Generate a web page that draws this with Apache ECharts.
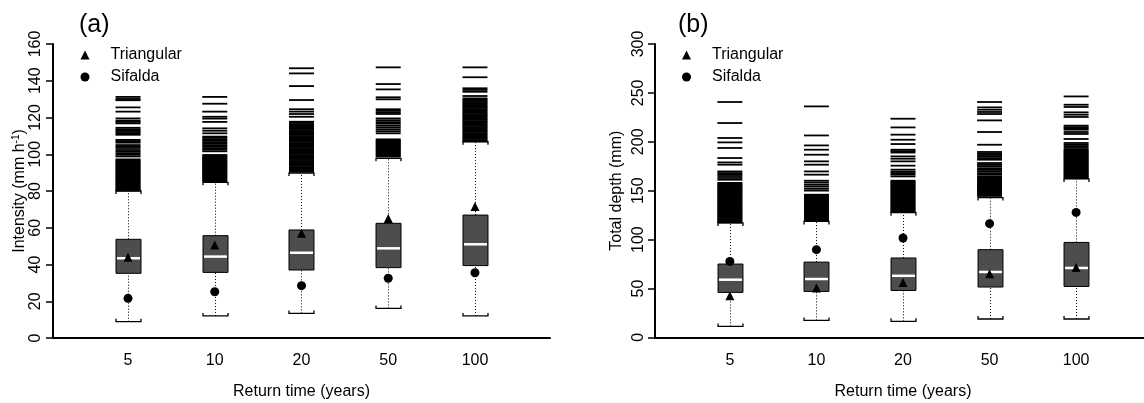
<!DOCTYPE html>
<html><head><meta charset="utf-8">
<script src="https://cdn.jsdelivr.net/npm/echarts@6/dist/echarts.min.js"></script>
<style>html,body{margin:0;padding:0;background:#fff}#c{width:1144px;height:403px}</style>
</head><body><div id="c"></div>
<script>
const categories = ['5', '10', '20', '50', '100'];

// Panel (a): Intensity (mm h-1)
const aLow = [8.9, 12.0, 13.4, 16.1, 12.0];
const aQ1 = [35.2, 35.7, 37.0, 38.3, 39.4];
const aMed = [43.4, 44.3, 46.4, 48.8, 51.0];
const aQ3 = [53.7, 55.7, 58.8, 62.4, 66.9];
const aHigh = [80.0, 84.7, 89.8, 97.8, 106.8];
const aTri = [43.9, 50.6, 57.0, 65.1, 71.5];
const aSif = [21.6, 25.2, 28.5, 32.5, 35.5];
const aOut5 = [131.2,130.1,129.4,125.5,123.2,119.5,118.3,117.6,116.8,114.4,113.6,112.9,112.1,111.3,110.6,107.8,107.1,106.3,105.0,104.2,103.4,102.3,101.5,100.6,99.7,98.8,97.2,96.6,96.1,95.5,95.0,94.4,93.9,93.3,92.8,92.2,91.7,91.1,90.6,90.0,89.5,88.9,88.4,87.8,87.3,86.7,86.2,85.6,85.1,84.5,84.0,83.4,82.9,82.3,81.8,81.2,80.7,80.3];
const aOut10 = [131.2,127.5,123.2,120.4,119.4,117.6,114.1,112.8,111.4,109.6,108.9,108.1,107.3,106.5,105.7,104.9,104.1,103.3,102.5,101.6,99.6,99.0,98.5,97.9,97.4,96.8,96.3,95.7,95.2,94.6,94.1,93.5,93.0,92.4,91.9,91.3,90.8,90.2,89.7,89.1,88.6,88.0,87.5,86.9,86.4,85.8,85.3];
const aOut20 = [146.8,144.0,137.1,129.5,124.5,123.2,121.9,120.4,117.7,117.1,116.4,115.8,115.1,114.5,113.8,113.2,112.5,111.9,111.2,110.6,109.9,109.3,108.6,108.0,107.3,106.7,106.0,105.4,104.7,104.1,103.4,102.8,102.1,101.5,100.8,100.2,99.5,98.9,98.2,97.6,96.9,96.3,95.6,95.0,94.3,93.7,93.0,92.4,91.7,91.1,90.5];
const aOut50 = [147.3,138.2,135.3,131.0,129.9,124.5,123.6,122.7,121.9,119.5,118.5,117.5,116.6,115.5,114.5,113.5,112.5,111.4,108.1,107.5,107.0,106.4,105.9,105.3,104.8,104.2,103.7,103.1,102.6,102.0,101.5,100.9,100.4,99.8,99.3,98.7];
const aOut100 = [147.3,141.9,135.9,135.0,134.0,131.7,130.4,129.7,129.1,128.4,127.8,127.1,126.5,125.8,125.2,124.5,123.9,123.2,122.6,121.9,121.3,120.6,120.0,119.3,118.7,118.0,117.4,116.7,116.1,115.4,114.8,114.1,113.5,112.8,112.2,111.5,110.9,110.2,109.6,108.9,108.3,107.6,107.1];

// Panel (b): Total depth (mm)
const bLow = [11.2, 17.4, 16.4, 18.8, 18.8];
const bQ1 = [46.0, 47.0, 48.0, 51.5, 52.1];
const bMed = [59.0, 59.7, 63.0, 66.9, 71.0];
const bQ3 = [75.0, 77.0, 81.2, 89.7, 97.1];
const bHigh = [117.0, 118.6, 127.5, 143.0, 162.0];
const bTri = [42.6, 50.5, 56.2, 65.0, 71.6];
const bSif = [77.7, 89.7, 101.6, 116.3, 127.8];
const bOut5 = [240.7,219.2,203.9,199.4,193.7,183.4,178.9,176.6,169.7,168.0,166.5,165.0,163.0,161.2,158.0,157.1,156.0,155.1,154.0,153.1,152.0,151.1,150.0,149.1,148.0,147.1,146.0,145.1,144.0,143.1,142.0,141.1,140.0,139.1,138.0,137.1,136.0,135.1,134.0,133.1,132.0,131.1,130.0,129.1,128.0,127.1,126.0,125.1,124.0,123.1,122.0,121.1,120.0,119.1,118.0,117.5];
const bOut10 = [236.2,206.5,196.3,191.9,186.8,180.0,176.6,169.7,166.4,160.2,158.3,156.1,154.2,152.0,150.1,145.9,144.8,143.9,142.8,141.9,140.8,139.9,138.8,137.9,136.8,135.9,134.8,133.9,132.8,131.9,130.8,129.9,128.8,127.9,126.8,125.9,124.8,123.9,122.8,121.9,120.8,119.9,119.1];
const bOut20 = [223.6,214.7,207.3,202.1,197.7,191.9,190.5,189.0,185.1,182.7,180.0,175.6,171.5,169.5,168.0,166.5,164.6,160.2,159.1,158.2,157.1,156.2,155.1,154.2,153.1,152.2,151.1,150.2,149.1,148.2,147.1,146.2,145.1,144.2,143.1,142.2,141.1,140.2,139.1,138.2,137.1,136.2,135.1,134.2,133.1,132.2,131.1,130.2,129.1,128.3];
const bOut50 = [240.7,235.2,232.8,230.5,228.4,221.9,210.0,197.0,189.6,188.0,186.5,185.0,183.3,181.7,178.3,176.5,175.0,173.0,171.5,170.0,168.0,166.4,164.6,163.5,162.6,161.5,160.6,159.5,158.6,157.5,156.6,155.5,154.6,153.5,152.6,151.5,150.6,149.5,148.6,147.5,146.6,145.5,144.6];
const bOut100 = [246.4,237.9,235.6,230.1,227.7,225.4,216.5,215.0,213.5,212.4,210.0,208.0,202.9,198.8,197.0,195.5,193.7,191.9,190.8,189.9,188.8,187.9,186.8,185.9,184.8,183.9,182.8,181.9,180.8,179.9,178.8,177.9,176.8,175.9,174.8,173.9,172.8,171.9,170.8,169.9,168.8,167.9,166.8,165.9,164.8,163.9,162.8];

const FONT = 'Liberation Sans, Arial, Helvetica, sans-serif';
const HALF = 0.144;

function boxItem(params, api) {
  const x = api.value(0);
  const pLo = api.coord([x, api.value(1)]);
  const pQ1 = api.coord([x, api.value(2)]);
  const pMed = api.coord([x, api.value(3)]);
  const pQ3 = api.coord([x, api.value(4)]);
  const pHi = api.coord([x, api.value(5)]);
  const hw = api.size([HALF, 0])[0];
  const cx = Math.round(pQ1[0]) + 0.5;
  const dotted = { stroke: '#000', lineWidth: 1, lineDash: [1, 2] };
  const solid = { stroke: '#000', lineWidth: 1.3, fill: null };
  const t = 3;
  return { type: 'group', children: [
    { type: 'line', shape: { x1: cx, y1: pLo[1], x2: cx, y2: pQ1[1] }, style: dotted },
    { type: 'line', shape: { x1: cx, y1: pQ3[1], x2: cx, y2: pHi[1] }, style: dotted },
    { type: 'polyline', shape: { points: [[cx - hw, pLo[1] - t], [cx - hw, pLo[1]], [cx + hw, pLo[1]], [cx + hw, pLo[1] - t]] }, style: solid },
    { type: 'polyline', shape: { points: [[cx - hw, pHi[1] + t], [cx - hw, pHi[1]], [cx + hw, pHi[1]], [cx + hw, pHi[1] + t]] }, style: solid },
    { type: 'rect', shape: { x: cx - hw, y: pQ3[1], width: 2 * hw, height: pQ1[1] - pQ3[1] }, style: { fill: '#4d4d4d', stroke: '#000', lineWidth: 1 } },
    { type: 'line', shape: { x1: cx - hw + 1, y1: pMed[1], x2: cx + hw - 1, y2: pMed[1] }, style: { stroke: '#fff', lineWidth: 2.5 } }
  ]};
}
function outItem(params, api) {
  const p = api.coord([api.value(0), api.value(1)]);
  const hw = api.size([HALF, 0])[0];
  return { type: 'line', shape: { x1: p[0] - hw, y1: p[1], x2: p[0] + hw, y2: p[1] }, style: { stroke: '#000', lineWidth: 1.8 } };
}
function boxData(lo, q1, med, q3, hi) {
  return lo.map((v, i) => [i + 1, v, q1[i], med[i], q3[i], hi[i]]);
}
function outData(list) {
  const d = [];
  list.forEach((arr, i) => arr.forEach(v => d.push([i + 1, v])));
  return d;
}
function pts(arr) { return arr.map((v, i) => [i + 1, v]); }

function xAxis(gi) {
  return {
    type: 'value', gridIndex: gi, min: 0.135, max: 5.865,
    splitLine: { show: false }, axisTick: { show: false },
    axisLine: { onZero: false, lineStyle: { color: '#000', width: 2 } },
    axisLabel: { customValues: [1, 2, 3, 4, 5], formatter: v => categories[Math.round(v) - 1], fontSize: 16, color: '#000', margin: 15, fontFamily: FONT },
    name: 'Return time (years)', nameLocation: 'middle', nameGap: 46,
    nameTextStyle: { fontSize: 16, color: '#000', fontFamily: FONT }
  };
}
function yAxis(gi, max, interval, name, gap, margin) {
  return {
    type: 'value', gridIndex: gi, min: 0, max: max, interval: interval,
    splitLine: { show: false },
    axisLine: { show: true, onZero: false, lineStyle: { color: '#000', width: 2 } },
    axisTick: { show: true, length: 7, lineStyle: { color: '#000', width: 1.5 } },
    axisLabel: { rotate: 90, fontSize: 16, color: '#000', margin: margin, fontFamily: FONT },
    name: name, nameLocation: 'middle', nameGap: gap,
    nameTextStyle: { fontSize: 16, color: '#000', fontFamily: FONT,
      rich: { sup: { fontSize: 10, verticalAlign: 'top', color: '#000', fontFamily: FONT } } }
  };
}
function legend(left) {
  return {
    left: left, top: 47, orient: 'vertical', padding: 0, itemGap: 6, itemWidth: 9, itemHeight: 9,
    selectedMode: false,
    data: [{ name: 'Triangular', icon: 'triangle' }, { name: 'Sifalda', icon: 'circle' }],
    textStyle: { fontSize: 16, color: '#000', lineHeight: 16, padding: [0, 0, 0, 16], fontFamily: FONT }
  };
}

const series = [];
[[0, aLow, aQ1, aMed, aQ3, aHigh, [aOut5, aOut10, aOut20, aOut50, aOut100], aTri, aSif],
 [1, bLow, bQ1, bMed, bQ3, bHigh, [bOut5, bOut10, bOut20, bOut50, bOut100], bTri, bSif]].forEach(p => {
  const gi = p[0];
  series.push({ type: 'custom', xAxisIndex: gi, yAxisIndex: gi, renderItem: outItem, data: outData(p[6]), clip: false, z: 2 });
  series.push({ type: 'custom', xAxisIndex: gi, yAxisIndex: gi, renderItem: boxItem, data: boxData(p[1], p[2], p[3], p[4], p[5]), clip: false, z: 3 });
  series.push({ type: 'scatter', name: 'Triangular', xAxisIndex: gi, yAxisIndex: gi, data: pts(p[7]), symbol: 'triangle', symbolSize: 9, itemStyle: { color: '#000', opacity: 1 }, z: 5 });
  series.push({ type: 'scatter', name: 'Sifalda', xAxisIndex: gi, yAxisIndex: gi, data: pts(p[8]), symbol: 'circle', symbolSize: 9, itemStyle: { color: '#000', opacity: 1 }, z: 5 });
});

const chart = echarts.init(document.getElementById('c'), null, { renderer: 'canvas' });
chart.setOption({
  animation: false,
  backgroundColor: '#fff',
  textStyle: { fontFamily: FONT },
  title: [
    { text: '(a)', left: 79, top: 13, padding: 0, textStyle: { fontSize: 25, fontWeight: 'normal', color: '#000', fontFamily: FONT } },
    { text: '(b)', left: 678, top: 13, padding: 0, textStyle: { fontSize: 25, fontWeight: 'normal', color: '#000', fontFamily: FONT } }
  ],
  legend: [legend(80.5), legend(682)],
  grid: [
    { left: 53, top: 44, width: 497, height: 294, outerBoundsMode: 'none' },
    { left: 655, top: 44, width: 496, height: 293.4, outerBoundsMode: 'none' }
  ],
  xAxis: [xAxis(0), xAxis(1)],
  yAxis: [
    yAxis(0, 160, 20, 'Intensity (mm h{sup|-1})', 25, 9),
    yAxis(1, 300, 50, 'Total depth (mm)', 30, 8)
  ],
  series: series
});
</script></body></html>
